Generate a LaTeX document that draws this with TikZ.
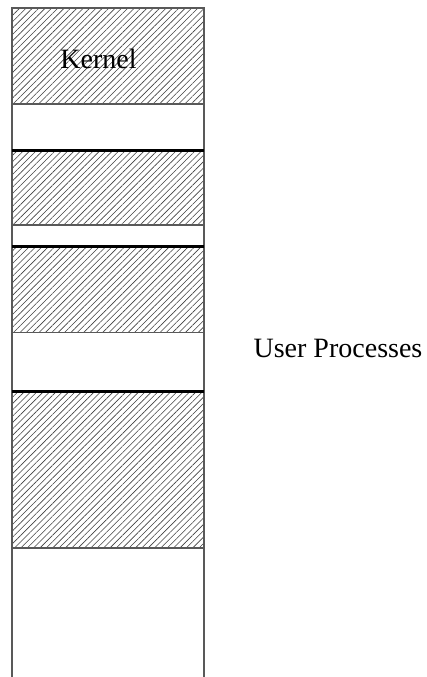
\documentclass[tikz,border=0pt]{standalone}
\usepackage{fontspec}
\setmainfont{Liberation Serif}
\usetikzlibrary{patterns.meta}
\begin{document}
\begin{tikzpicture}[x=1pt,y=-1pt,
  block/.style={inner sep=0pt, outer sep=0pt, minimum width=192pt, anchor=north west},
  hatched/.style={pattern={Lines[angle=45,distance=4.5pt,line width=0.6pt]}, pattern color=black!75},
  thin rule/.style={draw=black!65, line width=1.1pt},
  thick rule/.style={draw=black, line width=3pt},
  label text/.style={font=\fontsize{28}{32}\selectfont, inner sep=0pt, anchor=base}]
\useasboundingbox (0,0) rectangle (427,677);

% memory blocks, top to bottom
\node[block, hatched, minimum height=96pt]  (kernel) at (12,8) {};
\node[block, minimum height=46pt]           (free1)  at (12,104) {};
\node[block, hatched, minimum height=74.5pt] (proc1) at (12,150.5) {};
\node[block, minimum height=21.7pt]         (free2)  at (12,225) {};
\node[block, hatched, minimum height=86pt]  (proc2)  at (12,246.7) {};
\node[block, minimum height=58.3pt]         (free3)  at (12,332.7) {};
\node[block, hatched, minimum height=157pt] (proc3)  at (12,391) {};
\coordinate (bl) at (12,677);
\coordinate (br) at (204,677);

% outline of the memory column (open at the bottom)
\draw[thin rule] (bl) -- (kernel.north west) -- (kernel.north east) -- (br);
\foreach \b in {kernel,proc1,proc2,proc3}
  \draw[thin rule] (\b.south west) -- (\b.south east);
\foreach \b in {proc1,proc2,proc3}
  \draw[thick rule] (\b.north west) -- (\b.north east);

% labels
\node[label text] (klabel) at (98.5,69) {Kernel};
\node[label text] (ulabel) at (338,357) {User Processes};
\end{tikzpicture}
\end{document}
